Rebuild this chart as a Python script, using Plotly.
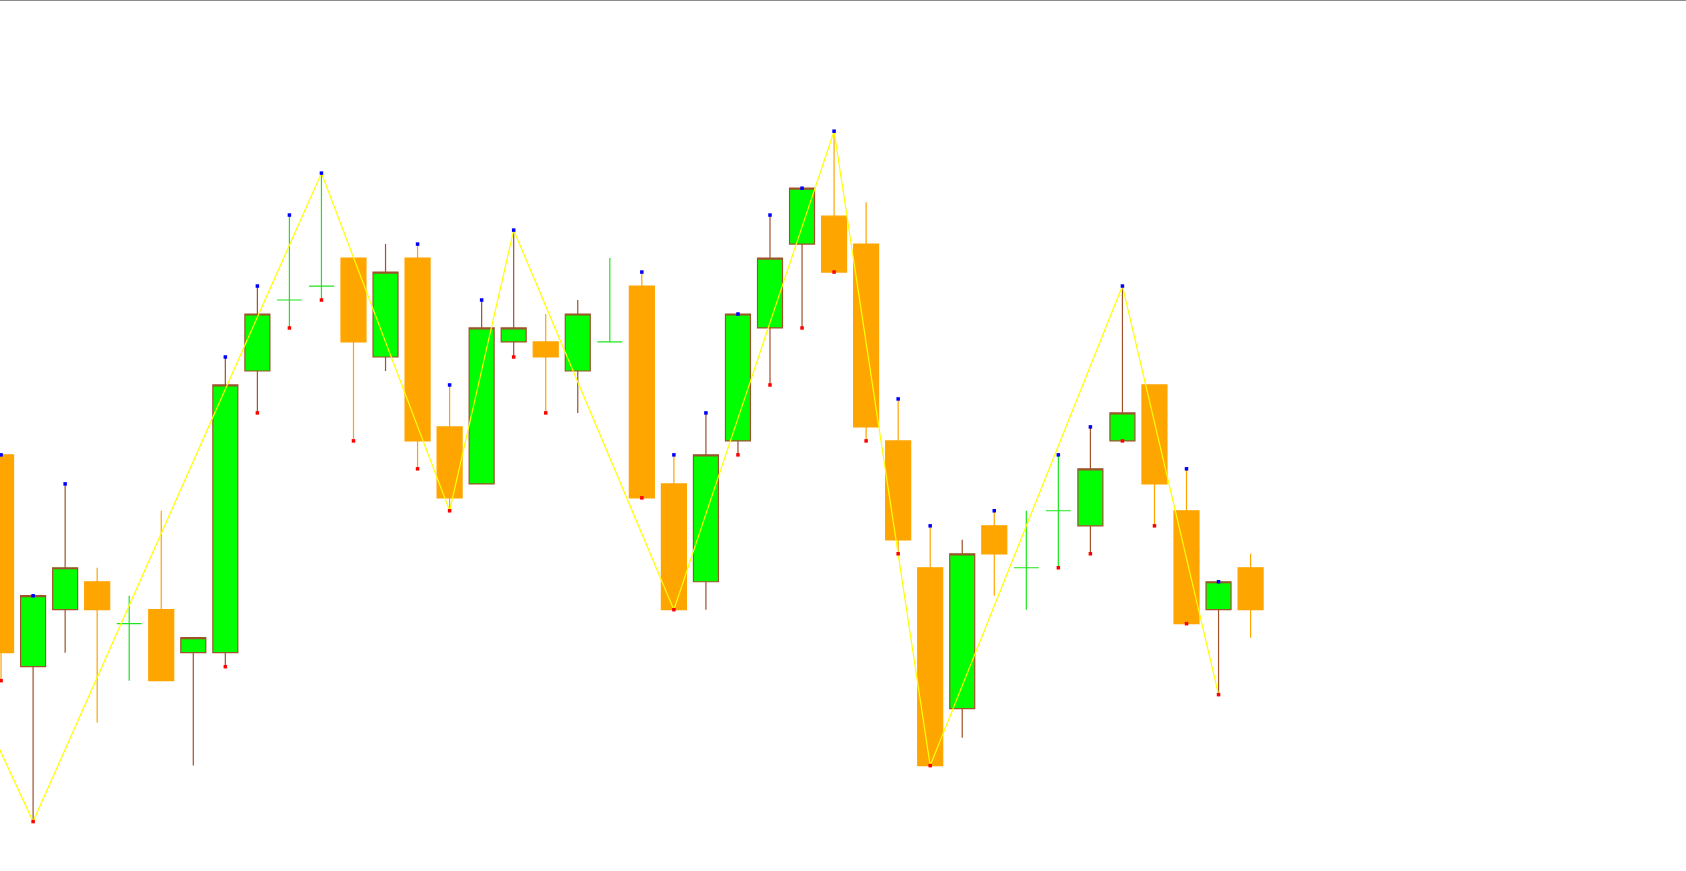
import plotly.graph_objects as go

# ---- data (price units) ----
bar_index = list(range(40))
opens = [387, 190, 243, 269, 230, 243, 203, 203, 465, 531, 544, 570, 478, 570, 413, 360, 492, 492, 465, 492,
         544, 360, 269, 400, 505, 583, 609, 583, 400, 282, 151, 321, 282, 335, 321, 400, 452, 335, 243, 282]
highs = [387, 256, 360, 282, 256, 335, 217, 478, 544, 610, 649, 570, 583, 583, 452, 531, 596, 518, 531, 570,
         557, 387, 426, 518, 610, 635, 688, 622, 439, 321, 308, 335, 335, 387, 413, 544, 452, 374, 269, 295]
lows = [177, 46, 203, 138, 177, 177, 98, 190, 426, 505, 531, 400, 465, 374, 335, 360, 478, 426, 426, 492,
        347, 243, 243, 387, 452, 505, 557, 400, 295, 98, 124, 256, 243, 282, 295, 400, 321, 230, 164, 217]
closes = [203, 256, 282, 243, 230, 177, 217, 452, 518, 531, 544, 492, 557, 400, 347, 505, 505, 478, 518, 492,
          347, 243, 387, 518, 570, 635, 557, 413, 308, 98, 295, 295, 282, 335, 374, 426, 360, 230, 269, 243]

# zigzag pivots (first one lies left of the visible window)
zz_index = [-5, 1, 10, 14, 16, 21, 26, 29, 35, 38]
zz_value = [431, 46, 649, 335, 596, 243, 688, 98, 544, 164]

# fractal marks
up_marks = [0, 1, 2, 7, 8, 9, 10, 13, 14, 15, 16, 20, 21, 22, 23, 24, 25, 26, 28, 29, 31, 33, 34, 35, 37, 38]
dn_marks = [0, 1, 7, 8, 9, 10, 11, 13, 14, 16, 17, 20, 21, 23, 24, 25, 26, 27, 28, 29, 33, 34, 35, 36, 37, 38]

GREEN = "#00FF00"
ORANGE = "#FFA500"
SIENNA = "#A0522D"
DOJI = "#1EE61E"

doji = [i for i in bar_index if opens[i] == closes[i]]
body = [i for i in bar_index if opens[i] != closes[i]]

fig = go.Figure()
fig.add_trace(go.Candlestick(
    x=body,
    open=[opens[i] for i in body], high=[highs[i] for i in body],
    low=[lows[i] for i in body], close=[closes[i] for i in body],
    increasing=dict(fillcolor=GREEN, line=dict(color=SIENNA, width=1.2)),
    decreasing=dict(fillcolor=ORANGE, line=dict(color=ORANGE, width=1.2)),
    whiskerwidth=0, showlegend=False, hoverinfo="skip",
))
fig.add_trace(go.Candlestick(
    x=doji,
    open=[opens[i] for i in doji], high=[highs[i] for i in doji],
    low=[lows[i] for i in doji], close=[closes[i] for i in doji],
    increasing=dict(fillcolor=DOJI, line=dict(color=DOJI, width=1.2)),
    decreasing=dict(fillcolor=DOJI, line=dict(color=DOJI, width=1.2)),
    whiskerwidth=0, showlegend=False, hoverinfo="skip",
))
fig.add_trace(go.Scatter(
    x=zz_index, y=zz_value, mode="lines",
    line=dict(color="#FFFF00", width=1.2), showlegend=False, hoverinfo="skip",
))
fig.add_trace(go.Scatter(
    x=up_marks, y=[highs[i] for i in up_marks], mode="markers",
    marker=dict(color="#0000FF", size=3.5, symbol="square"), showlegend=False, hoverinfo="skip",
))
fig.add_trace(go.Scatter(
    x=dn_marks, y=[lows[i] for i in dn_marks], mode="markers",
    marker=dict(color="#FF0000", size=3.5, symbol="square"), showlegend=False, hoverinfo="skip",
))

fig.add_shape(type="line", xref="paper", yref="paper", x0=0, x1=1, y0=1, y1=1,
              line=dict(color="#666666", width=1.5))

fig.update_layout(
    width=1686, height=871,
    margin=dict(l=0, r=0, t=0, b=0),
    paper_bgcolor="white", plot_bgcolor="white",
    boxgap=0.22, boxgroupgap=0,
    xaxis=dict(visible=False, range=[-0.033, 52.59], rangeslider=dict(visible=False)),
    yaxis=dict(visible=False, range=[0, 810]),
)

fig.write_html("out.html", config={"displayModeBar": False},
               post_script="document.body.style.margin='0';document.body.style.overflow='hidden';")
